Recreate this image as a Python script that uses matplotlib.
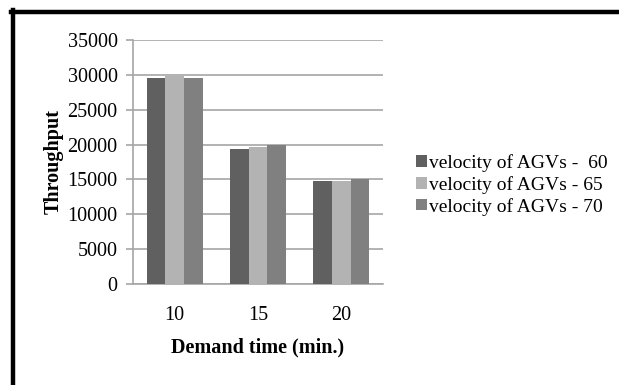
import matplotlib
matplotlib.use("Agg")
import matplotlib.pyplot as plt
import numpy as np
from matplotlib.lines import Line2D

# data
demand_times = ["10", "15", "20"]
vel_60 = [29600, 19400, 14800]
vel_65 = [29800, 19600, 14800]
vel_70 = [29600, 20000, 15000]
series_labels = ["velocity of AGVs -  60", "velocity of AGVs - 65", "velocity of AGVs - 70"]
series_colors = ["#606060", "#b3b3b3", "#808080"]

plt.rcParams["font.family"] = ["Liberation Serif", "DejaVu Serif"]

fig = plt.figure(figsize=(6.19, 3.85), dpi=100)
ax = fig.add_axes([0.2149, 0.2623, 0.404, 0.634])

x = np.arange(len(demand_times))
w = 0.224
for i, vals in enumerate([vel_60, vel_65, vel_70]):
    ax.bar(x + (i - 1) * w, vals, width=w, color=series_colors[i],
           label=series_labels[i], zorder=3)

ax.set_xlim(-0.5, 2.5)
ax.set_ylim(0, 35000)
ax.set_yticks(np.arange(0, 35001, 5000))
ax.set_xticks(x)
ax.set_xticklabels(demand_times)
ax.yaxis.grid(True, color="#a6a6a6", linewidth=1.2, zorder=0)
for s in ["top", "right"]:
    ax.spines[s].set_visible(False)
ax.spines["left"].set_color("#a6a6a6")
ax.spines["bottom"].set_color("#a6a6a6")
ax.spines["left"].set_linewidth(1.2)
ax.spines["bottom"].set_linewidth(1.2)
ax.tick_params(axis="y", length=5, color="#a6a6a6", width=1.2, labelsize=14.5, pad=6)
ax.tick_params(axis="x", length=0, labelsize=14.5, pad=16)

ax.set_xlabel("Demand time (min.)", fontsize=14.5, fontweight="bold", labelpad=9)
ax.set_ylabel("Throughput", fontsize=14.5, fontweight="bold", labelpad=3)

fig.legend(loc="center left", bbox_to_anchor=(0.66, 0.52), frameon=False,
           fontsize=14, handlelength=0.55, handleheight=0.55,
           handletextpad=0.1, labelspacing=0.2, borderaxespad=0)

# page border, top and left
fig.add_artist(Line2D([11 / 619, 1], [1 - 12 / 385, 1 - 12 / 385],
                      transform=fig.transFigure, color="black", linewidth=3.2))
fig.add_artist(Line2D([13 / 619, 13 / 619], [0, 1 - 10 / 385],
                      transform=fig.transFigure, color="black", linewidth=3.2))

fig.savefig("out.png", dpi=100)
